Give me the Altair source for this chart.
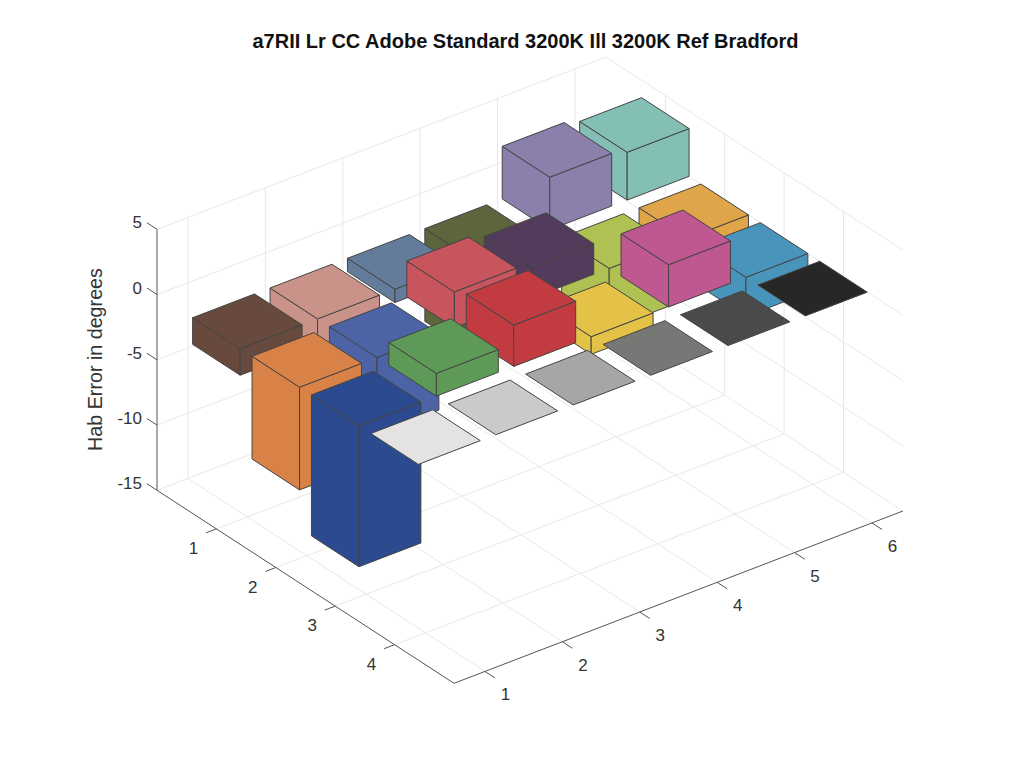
import altair as alt
import pandas as pd

TITLE = "a7RII Lr CC Adobe Standard 3200K Ill 3200K Ref Bradford"
ZLABEL = "Hab Error in degrees"
ROW_TICKS = [1, 2, 3, 4]
COL_TICKS = [1, 2, 3, 4, 5, 6]
Z_TICKS = [-15, -10, -5, 0, 5]

row1 = [-2.04, -2.2, -1.02, -7.1, 4.03, 3.66]
row2 = [-7.87, -5.85, 2.75, 2.35, -4.65, -1.4]
row3 = [-10.8, 1.74, 3.17, -1.35, 3.24, -3.0]
row4 = [0.0, 0.0, 0.0, 0.0, 0.0, 0.0]
heights = [row1, row2, row3, row4]

colors1 = ["#674A3D", "#C9938A", "#647C9B", "#5C653C", "#8B80AC", "#83BFB4"]
colors2 = ["#D98248", "#4C64A6", "#C8545D", "#533B5B", "#AFC152", "#DFA548"]
colors3 = ["#2B4A90", "#5D9A58", "#C23B40", "#E3C247", "#BF5790", "#4894BA"]
colors4 = ["#E4E3E1", "#CBCAC8", "#A7A6A4", "#777775", "#4A4A4A", "#272726"]
colors = [colors1, colors2, colors3, colors4]

XLIM = (0.6, 6.4)
YLIM = (0.0, 5.0)
ZLIM = (-15.0, 5.0)
HALF = 0.4

# Orthographic view of the 3-D axes, in page pixels
ORIGIN = (454.0, 683.3)
XV = (77.4, -29.7)
YV = (59.4, 38.6)
ZV = -13.05


def proj(x, y, z):
    return [
        ORIGIN[0] + (x - XLIM[0]) * XV[0] + (y - YLIM[1]) * YV[0],
        ORIGIN[1] + (x - XLIM[0]) * XV[1] + (y - YLIM[1]) * YV[1] + (z - ZLIM[0]) * ZV,
    ]


def line(a, b):
    return {"type": "Feature", "properties": {},
            "geometry": {"type": "LineString", "coordinates": [proj(*a), proj(*b)]}}


def poly(pts, fill):
    ring = [proj(*p) for p in pts]
    ring.append(ring[0])
    return {"type": "Feature", "properties": {"fill": fill},
            "geometry": {"type": "Polygon", "coordinates": [ring]}}


def fc(features):
    return alt.InlineData(values={"type": "FeatureCollection", "features": features},
                          format=alt.DataFormat(property="features", type="json"))


grid = []
for c in COL_TICKS:
    grid.append(line((c, YLIM[0], ZLIM[0]), (c, YLIM[1], ZLIM[0])))
    grid.append(line((c, YLIM[0], ZLIM[0]), (c, YLIM[0], ZLIM[1])))
for r in ROW_TICKS:
    grid.append(line((XLIM[0], r, ZLIM[0]), (XLIM[1], r, ZLIM[0])))
    grid.append(line((XLIM[1], r, ZLIM[0]), (XLIM[1], r, ZLIM[1])))
for z in Z_TICKS:
    grid.append(line((XLIM[0], YLIM[0], z), (XLIM[1], YLIM[0], z)))
    grid.append(line((XLIM[1], YLIM[0], z), (XLIM[1], YLIM[1], z)))

axes = [
    line((XLIM[0], YLIM[1], ZLIM[0]), (XLIM[1], YLIM[1], ZLIM[0])),
    line((XLIM[0], YLIM[0], ZLIM[0]), (XLIM[0], YLIM[1], ZLIM[0])),
    line((XLIM[0], YLIM[0], ZLIM[0]), (XLIM[0], YLIM[0], ZLIM[1])),
]
for c in COL_TICKS:
    axes.append(line((c, YLIM[1], ZLIM[0]), (c, YLIM[1] + 0.17, ZLIM[0])))
for r in ROW_TICKS:
    axes.append(line((XLIM[0], r, ZLIM[0]), (XLIM[0] - 0.135, r, ZLIM[0])))
for z in Z_TICKS:
    axes.append(line((XLIM[0], YLIM[0], z), (XLIM[0], YLIM[0] - 0.17, z)))

cells = [(r, c) for r in ROW_TICKS for c in COL_TICKS]
cells.sort(key=lambda rc: rc[0] - rc[1])
faces = []
for r, c in cells:
    v = heights[r - 1][c - 1]
    col = colors[r - 1][c - 1]
    x0, x1, y0, y1 = c - HALF, c + HALF, r - HALF, r + HALF
    zt, zb = max(v, 0.0), min(v, 0.0)
    if zt != zb:
        faces.append(poly([(x0, y0, zt), (x0, y1, zt), (x0, y1, zb), (x0, y0, zb)], col))
        faces.append(poly([(x0, y1, zt), (x1, y1, zt), (x1, y1, zb), (x0, y1, zb)], col))
    faces.append(poly([(x0, y0, zt), (x1, y0, zt), (x1, y1, zt), (x0, y1, zt)], col))

PR = alt.Projection(type="identity", scale=1, translate=[-8, -8])
FONT = "Liberation Sans"

grid_layer = alt.Chart(fc(grid)).mark_geoshape(filled=False, stroke="#e8e8e8", strokeWidth=1).project(**PR.to_dict())
axes_layer = alt.Chart(fc(axes)).mark_geoshape(filled=False, stroke="#555555", strokeWidth=1).project(**PR.to_dict())
face_layer = alt.Chart(fc(faces)).mark_geoshape(stroke="#444444", strokeWidth=1).encode(
    fill=alt.Fill("properties.fill:N", scale=None)
).project(**PR.to_dict())

labels = []
for c in COL_TICKS:
    p = proj(c, YLIM[1], ZLIM[0])
    labels.append({"lon": p[0] + 20.5, "lat": p[1] + 24, "t": str(c), "a": "center"})
for r in ROW_TICKS:
    p = proj(XLIM[0], r, ZLIM[0])
    labels.append({"lon": p[0] - 23, "lat": p[1] + 20, "t": str(r), "a": "center"})
tick_df = pd.DataFrame(labels)
z_df = pd.DataFrame([{"lon": proj(XLIM[0], YLIM[0], z)[0] - 15, "lat": proj(XLIM[0], YLIM[0], z)[1] - 6,
                      "t": str(z)} for z in Z_TICKS])

tick_layer = alt.Chart(tick_df).mark_text(font=FONT, fontSize=17, color="#333333", align="center",
                                          baseline="middle").encode(
    longitude="lon:Q", latitude="lat:Q", text="t:N").project(**PR.to_dict())
z_layer = alt.Chart(z_df).mark_text(font=FONT, fontSize=17, color="#333333", align="right",
                                    baseline="middle").encode(
    longitude="lon:Q", latitude="lat:Q", text="t:N").project(**PR.to_dict())
zlabel_layer = alt.Chart(pd.DataFrame([{"lon": 96.0, "lat": 359.5, "t": ZLABEL}])).mark_text(
    font=FONT, fontSize=19.7, color="#333333", align="center", baseline="middle", angle=270).encode(
    longitude="lon:Q", latitude="lat:Q", text="t:N").project(**PR.to_dict())
title_layer = alt.Chart(pd.DataFrame([{"lon": 525.5, "lat": 42.0, "t": TITLE}])).mark_text(
    font=FONT, fontSize=20, fontWeight="bold", color="#111111", align="center", baseline="middle").encode(
    longitude="lon:Q", latitude="lat:Q", text="t:N").project(**PR.to_dict())

chart = alt.layer(grid_layer, axes_layer, face_layer, tick_layer, z_layer, zlabel_layer, title_layer).properties(
    width=960, height=720, padding=0, autosize=alt.AutoSizeParams(type="none")
).configure_view(stroke=None).configure(background="white")

chart.save("out.html", embed_options={"renderer": "svg", "actions": False})
